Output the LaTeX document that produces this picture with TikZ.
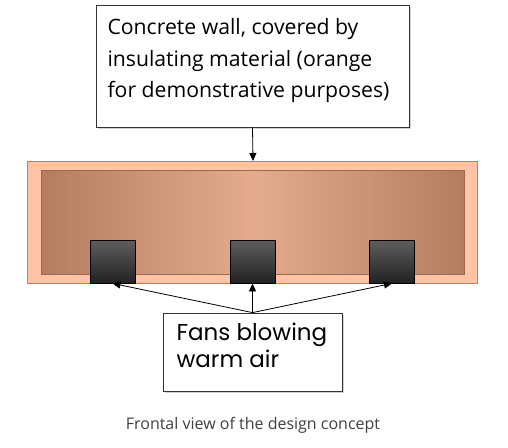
\documentclass[tikz,border=0pt]{standalone}
\usepackage{fontspec}
\setmainfont{Open Sans}
\newfontfamily\roundfont{Poppins}
\usetikzlibrary{shadows,arrows.meta}

\definecolor{insul}{HTML}{FFC4A6}
\definecolor{insuledge}{HTML}{F07030}
\definecolor{wallmid}{HTML}{E4AB8E}
\definecolor{walledge}{HTML}{B47D62}
\definecolor{fantop}{HTML}{5E5E5E}
\definecolor{fanbot}{HTML}{222222}

\tikzset{
  notebox/.style={draw=black!80, fill=white, line width=0.8pt, inner sep=0pt,
    drop shadow={shadow xshift=1.5pt, shadow yshift=-1.5pt, opacity=0.35}},
  fanbox/.style={draw=black, line width=0.8pt, top color=fantop, bottom color=fanbot,
    minimum width=45pt, minimum height=43pt, inner sep=0pt},
  pointer/.style={-{Triangle[length=8pt,width=7pt]}, line width=0.8pt}
}

\begin{document}
\begin{tikzpicture}[x=1pt, y=-1pt]
        \useasboundingbox (0, 0) rectangle (508, 447);

        % wall with insulation
        \draw[draw=insuledge, fill=insul, line width=0.8pt] (27, 161) rectangle (477, 283);
        \node[draw=walledge!85!black, line width=0.5pt, left color=walledge, right color=walledge,
              middle color=wallmid, minimum width=423pt, minimum height=104pt, inner sep=0pt]
              (wall) at (252.5, 222) {};
        \coordinate (walltop) at (253, 161);

        \node[fanbox] (fan1) at (112.5, 261.5) {};
        \node[fanbox] (fan2) at (252.5, 261.5) {};
        \node[fanbox] (fan3) at (392, 261.5) {};

        \node[notebox, minimum width=313pt, minimum height=122pt] (topnote) at (252.5, 66) {};
        \node[anchor=north west, align=left, font=\fontsize{21.2}{31.5}\selectfont] at (104, 15)
              {Concrete wall, covered by\\insulating material (orange\\for demonstrative purposes)};

        \node[notebox, minimum width=179pt, minimum height=78pt] (fannote) at (252.5, 352) {};
        \node[anchor=north west, align=left, font=\roundfont\fontsize{23}{27}\selectfont] at (173, 319)
              {Fans blowing\\warm air};

        \draw[pointer] (topnote.south) -- (walltop);
        \draw[pointer] (fannote.north) -- (fan1.south);
        \draw[pointer] (fannote.north) -- (fan2.south);
        \draw[pointer] (fannote.north) -- (fan3.south);

        \node[text=black!75, font=\fontsize{16}{19}\selectfont] (caption) at (253, 425)
              {Frontal view of the design concept};
        \end{tikzpicture}
\end{document}
